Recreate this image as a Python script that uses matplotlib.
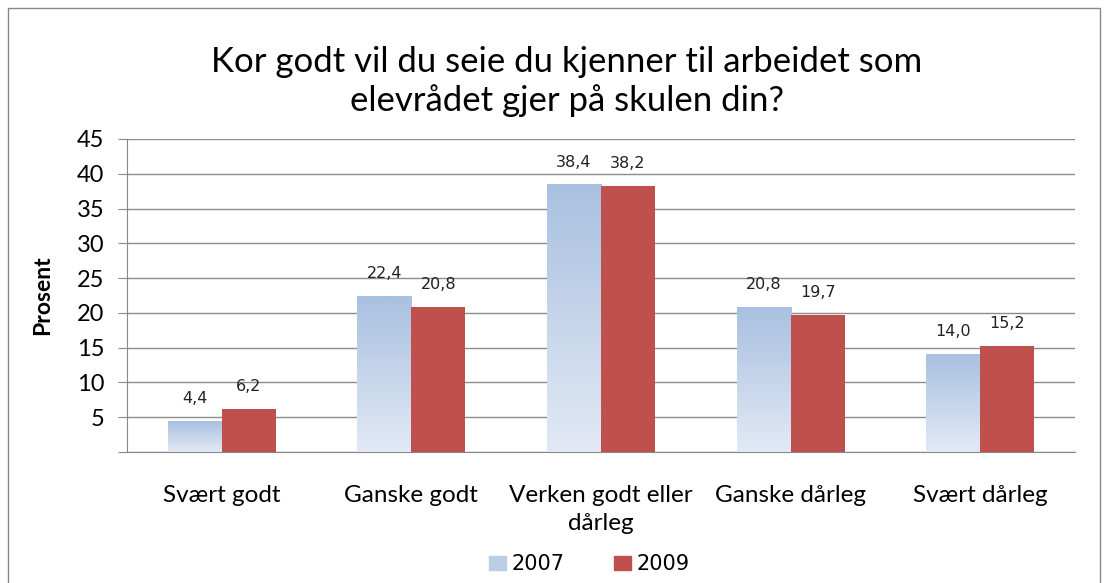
import numpy as np
import matplotlib.pyplot as plt
from matplotlib.colors import LinearSegmentedColormap
from matplotlib.patches import Rectangle

categories = ["Svært godt", "Ganske godt", "Verken godt eller\ndårleg", "Ganske dårleg", "Svært dårleg"]
v2007 = [4.4, 22.4, 38.4, 20.8, 14.0]
v2009 = [6.2, 20.8, 38.2, 19.7, 15.2]
labels2007 = ["4,4", "22,4", "38,4", "20,8", "14,0"]
labels2009 = ["6,2", "20,8", "38,2", "19,7", "15,2"]
title = "Kor godt vil du seie du kjenner til arbeidet som\nelevrådet gjer på skulen din?"

plt.rcParams['font.family'] = ['Lato', 'DejaVu Sans']

fig = plt.figure(figsize=(11.12, 5.83), dpi=100)
ax = fig.add_axes([0.1142, 0.2247, 0.8525, 0.5369])

x = np.arange(len(categories))
w = 0.285
red = "#c0504d"
blue_cmap = LinearSegmentedColormap.from_list("b", ["#e2e9f5", "#a9c1e0"])
grad = np.linspace(0, 1, 100).reshape(-1, 1)

for i in range(len(categories)):
    # 2007-søyle med gradient
    x0 = x[i] - w
    ax.imshow(grad, cmap=blue_cmap, aspect="auto", origin="lower",
              extent=(x0, x0 + w, 0, v2007[i]), zorder=3)
    ax.bar(x[i] + w / 2, v2009[i], w, color=red, zorder=3)
    ax.text(x[i] - w / 2, v2007[i] + 2.2, labels2007[i], ha="center", va="bottom",
            fontsize=11.5, color="#222", family="DejaVu Sans")
    ax.text(x[i] + w / 2, v2009[i] + 2.2, labels2009[i], ha="center", va="bottom",
            fontsize=11.5, color="#222", family="DejaVu Sans")

ax.set_xlim(-0.5, len(categories) - 0.5)
ax.set_ylim(0, 45)
ax.set_yticks(range(0, 50, 5))
ax.set_yticklabels([""] + [str(t) for t in range(5, 50, 5)], fontsize=17)
ax.set_xticks(x)
ax.set_xticklabels(categories, fontsize=17.5, va="top", linespacing=1.4)
ax.tick_params(axis="x", length=0, pad=24)
ax.tick_params(axis="y", length=6.5, color="#888", direction="out", pad=10)
ax.grid(axis="y", color="#8c8c8c", linewidth=1, zorder=0)
ax.set_axisbelow(True)
for s in ["top", "right"]:
    ax.spines[s].set_visible(False)
for s in ["left", "bottom"]:
    ax.spines[s].set_color("#888")
ax.set_ylabel("Prosent", fontsize=16.5, fontweight="bold", labelpad=17)

fig.text(0.51, 0.86, title, ha="center", va="center", fontsize=25, linespacing=1.25)

# forklaring
handles = [Rectangle((0, 0), 1, 1, color="#bccde6"), Rectangle((0, 0), 1, 1, color=red)]
fig.legend(handles, ["2007", "2009"], loc="center", bbox_to_anchor=(0.53, 0.032), ncol=2,
           frameon=False, prop={"family": "DejaVu Sans", "size": 15}, handlelength=0.8,
           handleheight=0.6, columnspacing=2.4, handletextpad=0.25)

# ramme rundt figuren
fig.patches.append(Rectangle((0.007, -0.02), 0.982, 1.006, transform=fig.transFigure,
                             fill=False, edgecolor="#888", linewidth=1))

fig.savefig("out.png", dpi=100)
